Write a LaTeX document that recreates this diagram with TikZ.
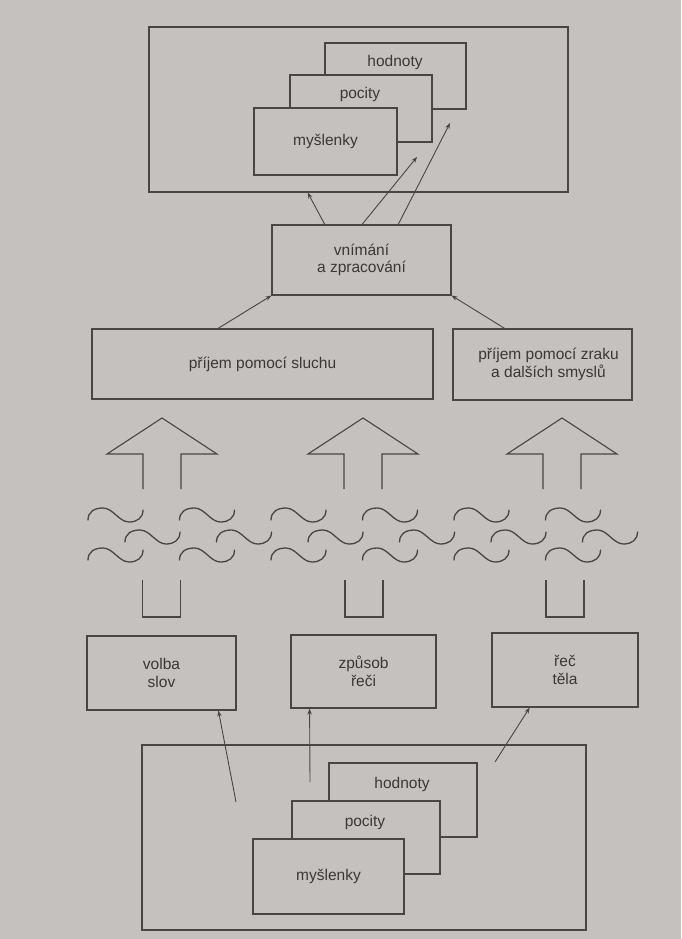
\documentclass[tikz,border=0pt]{standalone}
\usepackage{fontspec}
\setmainfont{Liberation Sans}
\usetikzlibrary{calc,arrows.meta}
\definecolor{paper}{RGB}{197,193,190}
\definecolor{ink}{RGB}{72,70,68}
\definecolor{txt}{RGB}{58,56,55}
\begin{document}
\begin{tikzpicture}[x=1pt,y=-1pt,
  box/.style={draw=ink, line width=1.1pt, fill=paper, inner sep=0pt, text=txt,
    font=\fontsize{15.5}{17.5}\selectfont, align=center},
  lbl/.style={text=txt, inner sep=0pt, font=\fontsize{15.5}{17.5}\selectfont, align=center},
  conn/.style={draw=ink, line width=0.9pt, -{Stealth[length=6pt,width=4.5pt]}},
  bigarrow/.style={draw=ink, line width=1.1pt, line join=miter},
  wave/.style={draw=ink, line width=1.3pt, line cap=round}]
\fill[paper] (0,0) rectangle (681,939);
\useasboundingbox (0,0) rectangle (681,939);

% ---------- top group ----------
\node[box, minimum width=419pt, minimum height=165pt] (TO) at (358.5,109.5) {};
\node[box, minimum width=141pt, minimum height=66pt] (TH) at (395.5,76) {};
\node[lbl] (THt) at (395,62) {hodnoty};
\node[box, minimum width=142pt, minimum height=67pt] (TP) at (361,108.5) {};
\node[lbl] (TPt) at (360,94) {pocity};
\node[box, minimum width=143pt, minimum height=67pt] (TM) at (325.5,141.5) {myšlenky};

% ---------- processing ----------
\node[box, minimum width=179pt, minimum height=70pt] (VZ) at (361.5,260) {vnímání\\a zpracování};
\node[box, minimum width=341pt, minimum height=70pt] (SL) at (262.5,364) {příjem pomocí sluchu};
\node[box, minimum width=179pt, minimum height=71pt] (ZR) at (542.5,364.5) {\hspace*{12pt}příjem pomocí zraku\\\hspace*{12pt}a dalších smyslů};

\coordinate (t2) at (417,157);
\coordinate (t3) at (450,123);
\draw[conn] ($(VZ.north west)!0.296!(VZ.north east)$) -- ($(TO.south west)!0.379!(TO.south east)$);
\draw[conn] ($(VZ.north west)!0.503!(VZ.north east)$) -- (t2);
\draw[conn] ($(VZ.north west)!0.704!(VZ.north east)$) -- (t3);
\draw[conn] ($(SL.north west)!0.37!(SL.north east)$) -- (VZ.south west);
\draw[conn] ($(ZR.north west)!0.29!(ZR.north east)$) -- (VZ.south east);

% ---------- big arrows ----------
\foreach \c in {162,363,562} {
  \draw[bigarrow] ({\c-19},489) -- ({\c-19},454) -- ({\c-55},454) -- (\c,418)
    -- ({\c+55},454) -- ({\c+19},454) -- ({\c+19},489);
}
\foreach \c in {161.5,364,565} {
  \draw[bigarrow] ({\c-19},580) -- ({\c-19},617) -- ({\c+19},617) -- ({\c+19},580);
}

% ---------- waves ----------
\foreach \y/\s in {515/88, 537/125, 555/88} {
  \foreach \i in {0,...,5} {
    \pgfmathsetmacro\xa{\s+91.5*\i}
    \draw[wave] (\xa,{\y+5}) .. controls (\xa,{\y-3}) and ({\xa+6},{\y-7}) .. ({\xa+15},{\y-7})
      .. controls ({\xa+25},{\y-7}) and ({\xa+31},{\y+7}) .. ({\xa+41},{\y+7})
      .. controls ({\xa+49},{\y+7}) and ({\xa+55},{\y+3}) .. ({\xa+55},{\y-5});
  }
}

% ---------- bottom row ----------
\node[box, minimum width=149pt, minimum height=74pt] (VS) at (161.5,673) {volba\\slov};
\node[box, minimum width=145pt, minimum height=73pt] (ZP) at (363.5,671.5) {způsob\\řeči};
\node[box, minimum width=146pt, minimum height=74pt] (RT) at (565,670) {řeč\\těla};

% ---------- bottom group ----------
\node[box, minimum width=444pt, minimum height=185pt] (BO) at (364,837.5) {};
\node[box, minimum width=148pt, minimum height=74pt] (BH) at (403,800) {};
\node[lbl] (BHt) at (402,784) {hodnoty};
\node[box, minimum width=148pt, minimum height=73pt] (BP) at (366,837.5) {};
\node[lbl] (BPt) at (365,822) {pocity};
\node[box, minimum width=151pt, minimum height=75pt] (BM) at (328.5,876.5) {myšlenky};

\coordinate (b1) at (236,802);
\coordinate (b2) at (310,782);
\coordinate (b3) at (495,762);
\draw[conn] (b1) -- ($(VS.south west)!0.879!(VS.south east)$);
\draw[conn] (b2) -- ($(ZP.south west)!0.131!(ZP.south east)$);
\draw[conn] (b3) -- ($(RT.south west)!0.26!(RT.south east)$);
\end{tikzpicture}
\end{document}
